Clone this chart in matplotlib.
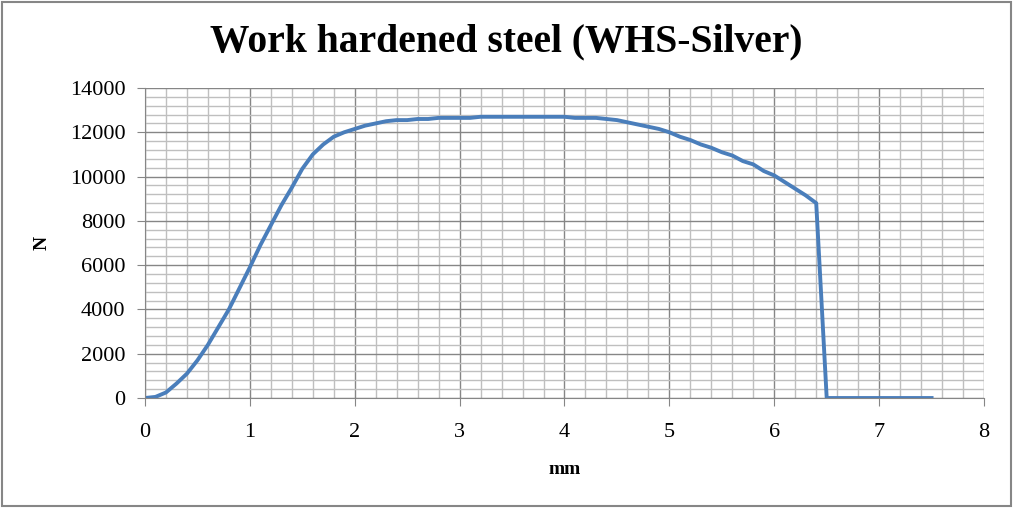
import numpy as np
import matplotlib.pyplot as plt
from matplotlib.ticker import MultipleLocator
from matplotlib.patches import Rectangle

# displacement (mm) and force (N)
mm = [0.0, 0.1, 0.2, 0.3, 0.4, 0.5, 0.6, 0.7, 0.8, 0.9,
      1.0, 1.1, 1.2, 1.3, 1.4, 1.5, 1.6, 1.7, 1.8, 1.9,
      2.0, 2.1, 2.2, 2.3, 2.4, 2.5, 2.6, 2.7, 2.8, 2.9,
      3.0, 3.1, 3.2, 3.3, 3.4, 3.5, 3.6, 3.7, 3.8, 3.9,
      4.0, 4.1, 4.2, 4.3, 4.4, 4.5, 4.6, 4.7, 4.8, 4.9,
      5.0, 5.1, 5.2, 5.3, 5.4, 5.5, 5.6, 5.7, 5.8, 5.9,
      6.0, 6.1, 6.2, 6.3, 6.4, 6.5, 7.0, 7.5]
force = [0, 50, 250, 650, 1100, 1700, 2400, 3200, 4000, 4950,
         5900, 6900, 7800, 8700, 9500, 10350, 11000, 11450, 11800, 12000,
         12150, 12300, 12400, 12500, 12550, 12550, 12600, 12600, 12650, 12650,
         12650, 12650, 12700, 12700, 12700, 12700, 12700, 12700, 12700, 12700,
         12700, 12650, 12650, 12650, 12600, 12550, 12450, 12350, 12250, 12150,
         12000, 11800, 11650, 11450, 11300, 11100, 10950, 10700, 10550, 10250,
         10050, 9750, 9450, 9150, 8800, 0, 0, 0]

fig = plt.figure(figsize=(10.13, 5.08), dpi=100)
ax = fig.add_axes([0.1431, 0.2165, 0.8283, 0.6103])

ax.plot(mm, force, color='#4A7EBB', linewidth=2.8, solid_joinstyle='round')

ax.set_xlim(0, 8)
ax.set_ylim(0, 14000)
ax.xaxis.set_major_locator(MultipleLocator(1))
ax.xaxis.set_minor_locator(MultipleLocator(0.2))
ax.yaxis.set_major_locator(MultipleLocator(2000))
ax.yaxis.set_minor_locator(MultipleLocator(400))
ax.grid(which='major', color='#868686', linewidth=1.0)
ax.grid(which='minor', color='#BFBFBF', linewidth=1.0)
ax.set_axisbelow(True)

for s in ['top', 'right']:
    ax.spines[s].set_visible(False)
for s in ['left', 'bottom']:
    ax.spines[s].set_color('#868686')
ax.tick_params(which='major', direction='out', length=6, color='#868686',
               labelsize=16, pad=8)
ax.tick_params(which='minor', length=0)
for lab in ax.get_xticklabels() + ax.get_yticklabels():
    lab.set_family('Liberation Serif')
ax.tick_params(axis='x', pad=12)

ax.set_xlabel('mm', family='Liberation Serif', fontweight='bold', fontsize=14, labelpad=14)
ax.set_ylabel('N', family='Liberation Serif', fontweight='bold', fontsize=14, labelpad=14)

fig.text(0.5, 0.917, 'Work hardened steel (WHS-Silver)', ha='center', va='center',
         family='Liberation Serif', fontweight='bold', fontsize=28.5)

fig.patches.append(Rectangle((0.002, 0.003), 0.996, 0.994, transform=fig.transFigure,
                             fill=False, edgecolor='#868686', linewidth=1.5))

plt.savefig('out.png', dpi=100)
